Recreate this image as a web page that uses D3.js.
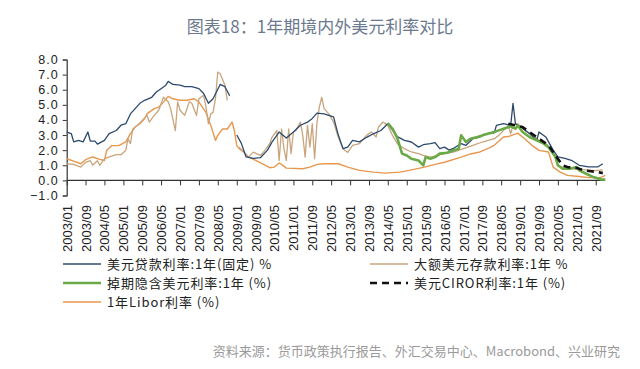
<!DOCTYPE html>
<html><head><meta charset="utf-8">
<script src="https://cdn.jsdelivr.net/npm/d3@7"></script>
<style>
html,body{margin:0;padding:0;background:#fff;}
svg{display:block;}
</style></head>
<body>
<svg id="chart" width="640" height="369"></svg>
<script>
// ---------------- DATA ----------------
const titleText = "图表18：1年期境内外美元利率对比";
const sourceText = "资料来源：货币政策执行报告、外汇交易中心、Macrobond、兴业研究";
const yTicks = [-1, 0, 1, 2, 3, 4, 5, 6, 7, 8];
const xTickLabels = ["2003/01","2003/09","2004/05","2005/01","2005/09","2006/05","2007/01","2007/09","2008/05","2009/01","2009/09","2010/05","2011/01","2011/09","2012/05","2013/01","2013/09","2014/05","2015/01","2015/09","2016/05","2017/01","2017/09","2018/05","2019/01","2019/09","2020/05","2021/01","2021/09"];
const seriesNames = ["美元贷款利率:1年(固定) %","大额美元存款利率:1年 %","掉期隐含美元利率:1年 (%)","美元CIROR利率:1年 (%)","1年Libor利率 (%)"];

const loanRate = [
["2003-01",3.2],["2003-03",3.1],["2003-04",2.55],["2003-06",2.65],["2003-08",2.55],["2003-10",3.2],["2003-11",2.6],["2004-01",2.6],["2004-02",2.4],["2004-05",2.65],["2004-07",3.1],["2004-10",3.3],["2004-12",3.65],["2005-02",3.75],["2005-04",4.4],["2005-06",4.75],["2005-08",5.1],["2005-10",5.3],["2006-01",5.5],["2006-03",5.85],["2006-05",6.07],["2006-07",6.3],["2006-08",6.55],["2006-10",6.35],["2007-01",6.3],["2007-03",6.2],["2007-06",6.2],["2007-09",6.07],["2007-11",5.75],["2008-01",5.1],["2008-03",5.4],["2008-06",6.35],["2008-08",6.2],["2008-10",5.6],["2008-11",null],
["2009-01",3.0],["2009-03",2.45],["2009-05",1.55],["2009-08",1.45],["2009-11",1.5],["2010-02",2.0],["2010-04",2.55],["2010-07",3.2],["2010-10",2.8],["2011-01",3.2],["2011-04",3.65],["2011-07",3.85],["2011-09",4.1],["2011-11",4.45],["2012-02",4.4],["2012-04",4.3],["2012-06",4.2],["2012-08",3.0],["2012-10",2.1],["2012-12",2.2],["2013-02",2.65],["2013-05",2.55],["2013-08",2.85],["2013-11",3.1],["2014-02",3.3],["2014-05",3.75],["2014-09",2.9],["2014-12",2.65],["2015-03",2.54],["2015-06",2.2],["2015-08",2.36],["2015-11",2.43],["2016-01",2.5],["2016-03",2.1],["2016-05",2.2],["2016-07",2.0],["2016-09",2.14],["2016-12",2.43],["2017-02",2.32],["2017-05",2.76],["2017-08",2.87],["2017-11",3.09],["2018-02",3.15],["2018-03",3.64],["2018-06",3.75],["2018-09",3.65],["2018-10",5.1],["2018-11",3.75],["2019-02",3.45],["2019-05",3.1],["2019-08",2.65],["2019-09",3.2],["2019-12",2.85],["2020-03",2.0],["2020-05",1.55],["2020-08",1.45],["2020-11",1.3],["2021-02",1.0],["2021-06",0.9],["2021-10",0.9],["2021-12",1.1]
];

const depositRate = [
["2003-01",1.1],["2003-04",1.06],["2003-07",0.88],["2003-09",1.2],["2003-11",1.3],["2003-12",1.0],["2004-02",1.3],["2004-03",1.0],["2004-05",1.43],["2004-07",1.55],["2004-10",1.7],["2004-12",1.7],["2005-02",2.0],["2005-03",2.75],["2005-04",2.43],["2005-05",3.4],["2005-07",3.65],["2005-09",3.97],["2005-11",4.3],["2005-12",3.86],["2006-02",4.3],["2006-04",4.64],["2006-06",5.5],["2006-08",5.2],["2006-09",4.75],["2006-11",3.3],["2006-12",5.2],["2007-01",4.64],["2007-03",4.3],["2007-05",5.2],["2007-06",5.1],["2007-08",4.3],["2007-09",5.4],["2007-11",5.63],["2007-12",4.85],["2008-01",3.75],["2008-02",4.4],["2008-03",4.5],["2008-04",5.4],["2008-05",7.17],["2008-06",7.06],["2008-08",6.3],["2008-09",5.3],["2008-10",null],
["2009-02",2.2],["2009-04",1.87],["2009-06",1.54],["2009-08",1.87],["2009-11",1.65],["2010-01",2.0],["2010-03",2.43],["2010-04",2.87],["2010-06",3.3],["2010-07",1.32],["2010-08",3.4],["2010-09",2.1],["2010-10",1.32],["2010-11",3.4],["2010-12",1.77],["2011-01",3.2],["2011-02",3.3],["2011-04",3.86],["2011-05",2.98],["2011-06",1.54],["2011-07",3.64],["2011-08",2.2],["2011-09",3.75],["2011-10",1.43],["2011-11",3.86],["2011-12",4.85],["2012-01",5.5],["2012-02",4.75],["2012-04",4.4],["2012-06",3.86],["2012-08",2.87],["2012-10",2.1],["2012-12",1.85],["2013-02",2.32],["2013-05",2.43],["2013-08",2.98],["2013-10",3.2],["2013-12",2.87],["2014-01",3.53],["2014-03",3.86],["2014-05",3.64],["2014-07",2.98],["2014-09",2.43],["2014-12",2.1],["2015-03",1.88],["2015-06",1.77],["2015-08",1.65],["2015-11",1.54],["2016-02",1.65],["2016-05",1.77],["2016-09",1.88],["2017-01",2.1],["2017-05",2.32],["2017-09",2.54],["2018-02",2.76],["2018-04",2.98],["2018-08",3.64],["2018-09",3.09],["2018-10",3.64],["2018-12",3.75],["2019-03",3.31],["2019-06",2.98],["2019-09",2.65],["2019-12",2.43],["2020-03",1.88],["2020-05",1.0],["2020-08",0.8],["2021-01",0.75],["2021-05",0.7],["2021-09",0.65],["2021-12",0.7]
];

const swapImplied = [
["2014-05",3.8],["2014-07",3.42],["2014-09",2.8],["2014-11",1.77],["2015-01",1.65],["2015-03",1.43],["2015-06",1.32],["2015-08",0.99],["2015-09",1.54],["2015-11",1.43],["2016-01",1.54],["2016-03",1.77],["2016-06",1.83],["2016-09",2.0],["2016-11",2.1],["2016-12",2.98],["2017-02",2.54],["2017-04",2.76],["2017-07",2.87],["2017-09",2.98],["2018-02",3.2],["2018-04",3.31],["2018-06",3.42],["2018-09",3.58],["2018-11",3.42],["2018-12",3.64],["2019-02",3.2],["2019-05",2.87],["2019-08",2.65],["2019-11",2.43],["2020-01",2.2],["2020-04",1.54],["2020-05",1.0],["2020-07",0.77],["2020-10",0.77],["2021-01",0.88],["2021-02",0.66],["2021-05",0.44],["2021-08",0.22],["2021-11",0.07],["2022-01",0.05]
];

const cirorRate = [
["2018-08",3.75],["2018-11",3.64],["2019-02",3.53],["2019-05",3.2],["2019-08",2.87],["2019-10",2.65],["2020-01",2.32],["2020-03",1.88],["2020-05",1.43],["2020-07",0.99],["2020-09",0.88],["2021-01",0.82],["2021-04",0.66],["2021-07",0.6],["2021-10",0.55],["2021-12",0.48]
];

const liborRate = [
["2003-01",1.43],["2003-04",1.28],["2003-07",1.1],["2003-09",1.37],["2003-12",1.55],["2004-03",1.39],["2004-05",1.32],["2004-06",2.0],["2004-08",2.3],["2004-11",2.3],["2005-02",2.55],["2005-04",3.1],["2005-06",3.53],["2005-08",3.75],["2005-10",4.08],["2005-11",4.4],["2006-02",4.75],["2006-04",4.85],["2006-06",5.18],["2006-08",5.56],["2006-10",5.4],["2007-01",5.3],["2007-04",5.3],["2007-07",5.4],["2007-09",5.18],["2007-12",4.5],["2008-02",3.64],["2008-04",2.65],["2008-05",2.98],["2008-07",3.4],["2008-09",3.4],["2008-11",3.86],["2008-12",3.3],["2009-01",2.3],["2009-02",2.1],["2009-04",1.87],["2009-06",1.55],["2009-09",1.32],["2009-12",1.1],["2010-03",0.84],["2010-05",0.88],["2010-07",1.15],["2010-08",1.06],["2010-10",0.81],["2011-05",0.77],["2011-08",0.88],["2011-11",1.06],["2012-02",1.1],["2012-05",1.1],["2012-08",1.1],["2012-12",0.88],["2013-05",0.66],["2013-11",0.55],["2014-04",0.48],["2014-10",0.55],["2015-02",0.66],["2015-08",0.86],["2016-01",1.06],["2016-05",1.2],["2016-12",1.54],["2017-04",1.75],["2017-08",1.88],["2017-12",2.15],["2018-02",2.32],["2018-06",2.87],["2018-08",2.9],["2018-12",3.13],["2019-03",2.76],["2019-06",2.32],["2019-09",1.99],["2020-01",1.88],["2020-03",0.88],["2020-06",0.55],["2020-09",0.33],["2021-02",0.26],["2021-06",0.18],["2021-11",0.18],["2022-01",0.33]
];

// ---------------- DRAW ----------------
const svg = d3.select("#chart");
const parse = d3.timeParse("%Y-%m");
const parseTick = d3.timeParse("%Y/%m");

const x = d3.scaleTime()
  .domain([parse("2003-01"), parse("2022-01")])
  .range([66.7, 605.2]);
const y = d3.scaleLinear().domain([-1, 8]).range([195.5, 59.5]);

// Title
svg.append("text")
  .attr("x", 320).attr("y", 33)
  .attr("text-anchor", "middle")
  .attr("font-family", "'Noto Sans CJK SC', sans-serif")
  .attr("font-size", 17)
  .attr("fill", "#6c7a8e")
  .text(titleText);

// Y axis
const yAxis = d3.axisLeft(y).tickValues(yTicks).tickSize(4).tickFormat(d3.format(".1f"));
const gy = svg.append("g").attr("transform", "translate(66.7,0)").call(yAxis);
gy.select(".domain").attr("stroke", "#333").attr("stroke-width", 1.2);
gy.selectAll(".tick line").attr("stroke", "#333");
gy.selectAll(".tick text")
  .attr("font-family", "'Liberation Sans', Arial, sans-serif")
  .attr("font-size", 12.5)
  .attr("letter-spacing", 1)
  .attr("fill", "#222")
  .attr("x", -8)
  .text(d => d3.format(".1f")(d).replace("-", "\u2212"));

// X axis at y = 0
const xTickDates = xTickLabels.map(parseTick);
const xAxis = d3.axisBottom(x).tickValues(xTickDates).tickSize(5).tickFormat(d3.timeFormat("%Y/%m"));
const gx = svg.append("g").attr("transform", `translate(0,${y(0)})`).call(xAxis);
gx.select(".domain").attr("stroke", "#333").attr("stroke-width", 1.2).attr("d", `M${x.range()[0]},0H${x.range()[1]}`);
gx.selectAll(".tick line").attr("stroke", "#333");
gx.selectAll(".tick text")
  .attr("font-family", "'Liberation Sans', Arial, sans-serif")
  .attr("font-size", 13)
  .attr("fill", "#222")
  .attr("text-anchor", "end")
  .attr("transform", `translate(0,${205 - y(0)}) rotate(-90)`)
  .attr("x", 0).attr("y", 0).attr("dy", "0.35em");

// Lines
const line = d3.line()
  .defined(d => d[1] !== null)
  .x(d => x(parse(d[0])))
  .y(d => y(d[1]));

const styles = [
  {data: liborRate, color: "#e8974f", width: 1.4, dash: null},
  {data: depositRate, color: "#c9a57d", width: 1.3, dash: null},
  {data: loanRate, color: "#2c4a6e", width: 1.3, dash: null},
  {data: swapImplied, color: "#6aaa46", width: 2.6, dash: null},
  {data: cirorRate, color: "#111", width: 2.6, dash: "7,5"}
];
styles.forEach(s => {
  svg.append("path")
    .datum(s.data)
    .attr("fill", "none")
    .attr("stroke", s.color)
    .attr("stroke-width", s.width)
    .attr("stroke-dasharray", s.dash)
    .attr("stroke-linejoin", "round")
    .attr("d", line);
});

// Legend
const legendItems = [
  {name: seriesNames[0], color: "#2c4a6e", width: 1.5, dash: null, lx: 63, ly: 264},
  {name: seriesNames[1], color: "#c9a57d", width: 1.5, dash: null, lx: 370, ly: 264},
  {name: seriesNames[2], color: "#6aaa46", width: 2.6, dash: null, lx: 63, ly: 283},
  {name: seriesNames[3], color: "#111", width: 2.6, dash: "7,5", lx: 370, ly: 283},
  {name: seriesNames[4], color: "#e8974f", width: 1.5, dash: null, lx: 63, ly: 302}
];
const lg = svg.append("g");
legendItems.forEach(it => {
  lg.append("line")
    .attr("x1", it.lx).attr("x2", it.lx + 38)
    .attr("y1", it.ly).attr("y2", it.ly)
    .attr("stroke", it.color).attr("stroke-width", it.width)
    .attr("stroke-dasharray", it.dash);
  lg.append("text")
    .attr("x", it.lx + 44).attr("y", it.ly).attr("dy", "0.35em")
    .attr("font-family", "'Noto Sans CJK SC', sans-serif")
    .attr("font-size", 13)
    .attr("letter-spacing", 0.9)
    .attr("fill", "#222")
    .text(it.name);
});

// Source
svg.append("text")
  .attr("x", 620).attr("y", 356)
  .attr("text-anchor", "end")
  .attr("font-family", "'Noto Sans CJK SC', sans-serif")
  .attr("font-size", 13)
  .attr("fill", "#9a9a9a")
  .text(sourceText);
</script>
</body></html>
